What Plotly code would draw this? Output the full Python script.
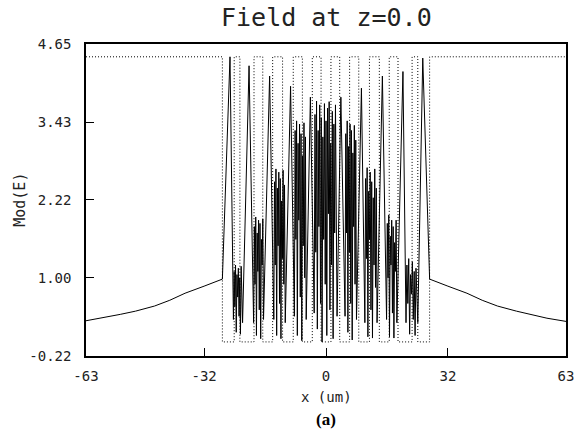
import numpy as np
import plotly.graph_objects as go

# ---- field magnitude |E| across the waveguide (x in um) ----
# evanescent tails outside the core
tail_left_x = [-63, -58, -54, -50, -45, -41, -37, -32, -27.2]
tail_left_y = [0.33, 0.38, 0.43, 0.48, 0.56, 0.65, 0.76, 0.87, 0.98]
tail_right_x = [27.2, 32, 37, 41, 45, 50, 54, 58, 63]
tail_right_y = [0.98, 0.87, 0.76, 0.65, 0.56, 0.48, 0.43, 0.37, 0.32]

# smooth lobes inside the core: position and height
lobe_x = [-25.2, -20.2, -14.8, -9.3, -4.1, 3.9, 9.3, 14.8, 20.2, 25.4]
lobe_y = [4.45, 4.31, 4.15, 3.99, 3.82, 3.82, 3.96, 4.15, 4.22, 4.43]

# rapidly oscillating stretches between the lobes: span and sampled values
noise_span = [(-24.3, -21.9), (-19.0, -16.4), (-13.7, -10.7), (-8.3, -5.2),
              (-3.1, 2.9), (5.0, 8.0), (10.2, 13.4), (15.9, 18.6), (21.0, 24.1)]
noise_1 = [0.35, 1.10, 0.55, 1.20, 0.15, 1.05, 0.70, 1.15, 0.40, 1.00, 0.12, 1.18, 0.60, 0.30]
noise_2 = [0.30, 1.80, 0.90, 1.95, 0.10, 1.70, 1.10, 1.90, 0.50, 1.85, 0.05, 1.60, 1.20, 1.92, 0.35]
noise_3 = [0.35, 2.50, 1.20, 2.70, 0.10, 2.40, 1.50, 2.65, 0.60, 2.55, 0.05, 2.20, 1.30, 2.68,
           0.90, 2.45, 0.30]
noise_4 = [0.40, 3.30, 1.60, 3.45, 0.10, 3.10, 1.90, 3.40, 0.70, 3.25, 0.02, 2.90, 1.50, 3.42,
           1.00, 3.20, 0.35]
noise_5 = [0.45, 3.55, 1.40, 3.76, 0.20, 3.30, 1.80, 3.70, 0.60, 3.50, 0.00, 3.20, 1.60, 3.72,
           0.90, 3.45, 0.10, 3.65, 2.00, 3.75, 0.50, 3.10, 1.20, 3.60, 0.05, 3.40, 1.70, 3.70,
           0.80, 0.40]
noise_6 = [0.40, 3.25, 1.70, 3.45, 0.15, 3.05, 1.40, 3.40, 0.60, 3.30, 0.03, 2.95, 1.80, 3.38,
           0.90, 3.15, 0.35]
noise_7 = [0.30, 2.55, 1.30, 2.72, 0.08, 2.35, 1.60, 2.65, 0.50, 2.50, 0.06, 2.25, 1.20, 2.70,
           0.85, 2.40, 0.30]
noise_8 = [0.35, 1.85, 1.00, 1.98, 0.08, 1.65, 1.20, 1.90, 0.45, 1.80, 0.06, 1.55, 1.10, 1.90, 0.30]
noise_9 = [0.30, 1.20, 0.60, 1.30, 0.12, 1.05, 0.75, 1.25, 0.35, 1.10, 0.10, 1.15, 0.55, 0.30]
noise_vals = [noise_1, noise_2, noise_3, noise_4, noise_5, noise_6, noise_7, noise_8, noise_9]

# ---- scaled index profile (dotted) ----
index_edges = [-63, -27.2, -24.1, -22.6, -18.9, -16.6, -14.0, -11.4, -8.6, -6.2, -3.6, -1.3,
               1.3, 3.6, 6.2, 8.6, 11.4, 14.0, 16.6, 18.9, 22.6, 24.1, 27.2, 63]
index_level = [4.45 if i % 2 == 0 else 0.0 for i in range(len(index_edges) - 1)]

x_ticks = [-63, -32, 0, 32, 63]
y_ticks = [-0.22, 1.00, 2.22, 3.43, 4.65]

# assemble the field trace
fx = list(tail_left_x)
fy = list(tail_left_y)
for k in range(len(lobe_x)):
    fx.append(lobe_x[k])
    fy.append(lobe_y[k])
    if k < len(noise_vals):
        a, b = noise_span[k]
        vals = noise_vals[k]
        fx.extend(np.linspace(a, b, len(vals)).tolist())
        fy.extend(vals)
fx.extend(tail_right_x)
fy.extend(tail_right_y)

fig = go.Figure()
fig.add_trace(go.Scatter(
    x=index_edges, y=index_level + [index_level[-1]], mode="lines",
    line=dict(color="black", width=1, dash="1px,2px", shape="hv"),
    hoverinfo="skip", showlegend=False))
fig.add_trace(go.Scatter(
    x=fx, y=fy, mode="lines",
    line=dict(color="black", width=1.0),
    showlegend=False))

mono = "DejaVu Sans Mono"
fig.update_layout(
    width=586, height=435,
    margin=dict(l=86, r=14, t=44, b=79),
    paper_bgcolor="white", plot_bgcolor="white",
    font=dict(family=mono, color="black", size=14),
    xaxis=dict(range=[-63, 63], tickvals=x_ticks, ticktext=[str(v) for v in x_ticks],
               ticks="inside", ticklen=8, tickcolor="black", showline=True, mirror=True,
               linecolor="black", linewidth=1.5, showgrid=False, zeroline=False,
               ticklabelstandoff=6, tickfont=dict(family=mono, size=14, color="#222")),
    yaxis=dict(range=[-0.22, 4.65], tickvals=y_ticks, ticktext=[f"{v:.2f}" for v in y_ticks],
               ticks="inside", ticklen=8, tickcolor="black", showline=True, mirror=True,
               linecolor="black", linewidth=1.5, showgrid=False, zeroline=False,
               ticklabelstandoff=10, tickfont=dict(family=mono, size=14, color="#222")),
    annotations=[
        dict(text="Field at z=0.0", x=0.5, y=1.085, xref="paper", yref="paper",
             xanchor="center", yanchor="middle", showarrow=False,
             font=dict(family=mono, size=25, color="#222")),
        dict(text="x (um)", x=0.5, y=-0.13, xref="paper", yref="paper",
             xanchor="center", yanchor="middle", showarrow=False,
             font=dict(family=mono, size=14, color="#222")),
        dict(text="<b>(a)</b>", x=0.5, y=-0.205, xref="paper", yref="paper",
             xanchor="center", yanchor="middle", showarrow=False,
             font=dict(family="Liberation Serif", size=17)),
        dict(text="Mod(E)", x=-0.138, y=0.5, xref="paper", yref="paper",
             xanchor="center", yanchor="middle", showarrow=False, textangle=-90,
             font=dict(family=mono, size=15, color="#222")),
    ],
)

fig.write_html("out.html")
